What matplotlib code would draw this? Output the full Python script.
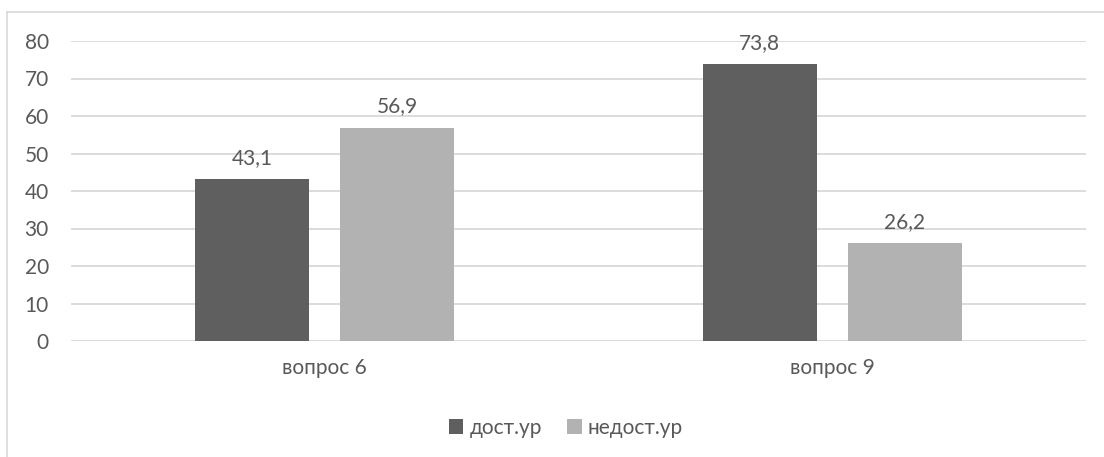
import matplotlib.pyplot as plt
import numpy as np
from matplotlib.lines import Line2D

categories = ['вопрос 6', 'вопрос 9']
series_names = ['дост.ур', 'недост.ур']
dost = [43.1, 73.8]
nedost = [56.9, 26.2]
yticks = [0, 10, 20, 30, 40, 50, 60, 70, 80]

plt.rcParams['font.family'] = ['Lato', 'DejaVu Sans']
text_col = '#595959'
grid_col = '#d9d9d9'
fs = 15

fig = plt.figure(figsize=(11.04, 4.57), dpi=100)
ax = fig.add_axes([71 / 1104, 1 - 341 / 457, 1015 / 1104, 300 / 457])

x = np.arange(len(categories))
w = 0.225
off = 0.143
b1 = ax.bar(x - off, dost, w, color='#5f5f5f', label=series_names[0], zorder=3)
b2 = ax.bar(x + off, nedost, w, color='#b2b2b2', label=series_names[1], zorder=3)

for bars in (b1, b2):
    labels = [f'{v:.1f}'.replace('.', ',') for v in bars.datavalues]
    ax.bar_label(bars, labels=labels, padding=8, fontsize=fs, color=text_col)

ax.set_xlim(-0.5, 1.5)
ax.set_ylim(0, 80)
ax.set_yticks(yticks)
ax.set_xticks(x)
ax.set_xticklabels(categories)
ax.tick_params(axis='both', length=0, labelsize=fs, colors=text_col)
ax.tick_params(axis='y', pad=16)
ax.tick_params(axis='x', pad=12)
ax.grid(axis='y', color=grid_col, linewidth=1.3, zorder=0)
for s in ax.spines.values():
    s.set_visible(False)

leg = fig.legend(loc='center', bbox_to_anchor=(566 / 1104, 1 - 428 / 457), ncol=2,
                 frameon=False, fontsize=fs, handlelength=0.7, handleheight=0.7,
                 handletextpad=0.3, columnspacing=1.2, labelcolor=text_col)

# outer chart border (only top and left visible)
fig.add_artist(Line2D([7 / 1104, 1.0], [1 - 12 / 457, 1 - 12 / 457], color=grid_col, lw=1.2))
fig.add_artist(Line2D([7 / 1104, 7 / 1104], [0, 1 - 12 / 457], color=grid_col, lw=1.2))

fig.savefig('out.png', dpi=100)
